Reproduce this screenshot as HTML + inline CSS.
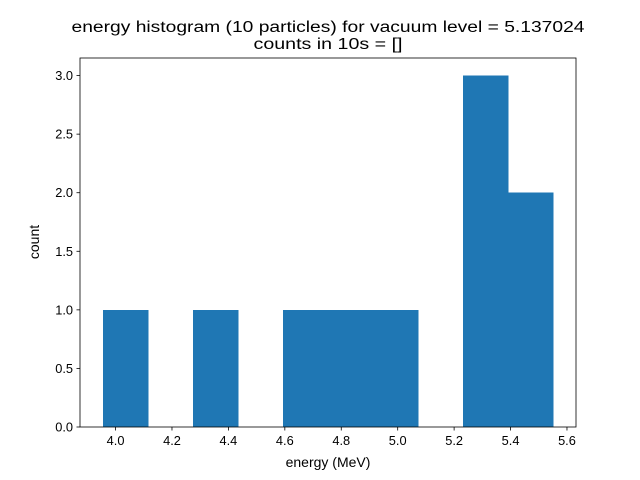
<!DOCTYPE html>
<html><head><meta charset="utf-8"><style>
body{margin:0;background:#fff}
svg{display:block;font-family:"Liberation Sans","DejaVu Sans",sans-serif}
</style></head><body>
<svg id="chart" width="640" height="480">
<rect width="640" height="480" fill="#fff"/>
<text x="328" y="32" font-size="15.5" text-anchor="middle" textLength="513" lengthAdjust="spacingAndGlyphs">energy histogram (10 particles) for vacuum level = 5.137024</text>
<text x="328" y="49" font-size="15.5" text-anchor="middle" textLength="149" lengthAdjust="spacingAndGlyphs">counts in 10s = []</text>
<g id="bars" shape-rendering="crispEdges"></g>
<rect x="80" y="58" width="496" height="369" fill="none" stroke="#000" stroke-width="0.8"/>
<g id="axes"></g>
<text x="328" y="467" font-size="14" text-anchor="middle">energy (MeV)</text>
<text x="0" y="0" font-size="14" text-anchor="middle" transform="translate(39,242) rotate(-90)">count</text>
</svg>
<script>
const binStart = 3.954;
const binWidth = 0.1598;
const counts = [1,0,1,0,1,1,1,0,3,2];
const xTicks = [4.0,4.2,4.4,4.6,4.8,5.0,5.2,5.4,5.6];
const yTicks = [0.0,0.5,1.0,1.5,2.0,2.5,3.0];
const X0=80,X1=576,Y0=427,Y1=58;
const xmin=3.874,xmax=5.632,ymin=0,ymax=3.15;
const sx=v=>X0+(v-xmin)/(xmax-xmin)*(X1-X0);
const sy=v=>Y0-(v-ymin)/(ymax-ymin)*(Y0-Y1);
const NS="http://www.w3.org/2000/svg";
const bars=document.getElementById('bars'),axes=document.getElementById('axes');
counts.forEach((c,i)=>{
  if(!c)return;
  const r=document.createElementNS(NS,'rect');
  const a=Math.round(sx(binStart+i*binWidth)),b=Math.round(sx(binStart+(i+1)*binWidth));
  r.setAttribute('x',a);r.setAttribute('width',b-a+0.5);
  r.setAttribute('y',sy(c));r.setAttribute('height',sy(0)-sy(c));
  r.setAttribute('fill','#1f77b4');
  
  
  bars.appendChild(r);
});
xTicks.forEach(t=>{
  const x=sx(t);
  const l=document.createElementNS(NS,'line');
  l.setAttribute('x1',x);l.setAttribute('x2',x);l.setAttribute('y1',Y0);l.setAttribute('y2',Y0+3.5);
  l.setAttribute('stroke','#000');l.setAttribute('stroke-width','0.8');
  
  
  axes.appendChild(l);
  const tx=document.createElementNS(NS,'text');
  tx.setAttribute('x',x);tx.setAttribute('y',Y0+18);tx.setAttribute('font-size','12.8');tx.setAttribute('text-anchor','middle');
  tx.textContent=t.toFixed(1);
  
  
  axes.appendChild(tx);
});
yTicks.forEach(t=>{
  const y=sy(t);
  const l=document.createElementNS(NS,'line');
  l.setAttribute('x1',X0-3.5);l.setAttribute('x2',X0);l.setAttribute('y1',y);l.setAttribute('y2',y);
  l.setAttribute('stroke','#000');l.setAttribute('stroke-width','0.8');
  
  
  axes.appendChild(l);
  const tx=document.createElementNS(NS,'text');
  tx.setAttribute('x',X0-7);tx.setAttribute('y',y+4.5);tx.setAttribute('font-size','12.8');tx.setAttribute('text-anchor','end');
  tx.textContent=t.toFixed(1);
  
  
  axes.appendChild(tx);
});
</script>
</body></html>
